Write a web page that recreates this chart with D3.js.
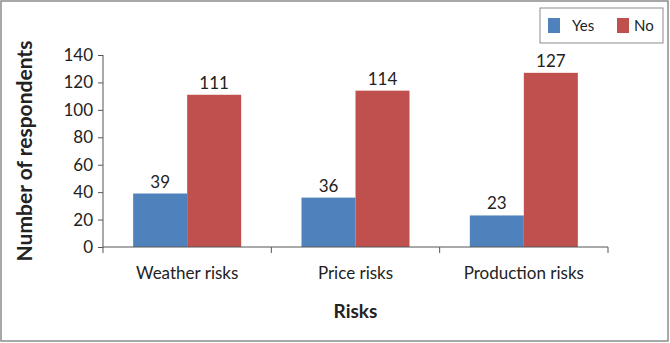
<!DOCTYPE html>
<html>
<head>
<meta charset="utf-8">
<script src="https://cdn.jsdelivr.net/npm/d3@7"></script>
<style>
  body { margin: 0; background: #fff; }
  svg { display: block; font-family: Lato, "Liberation Sans", sans-serif; }
  .axis path, .axis line { stroke: #555; }
</style>
</head>
<body>
<div id="chart"></div>
<script>
var categories = ["Weather risks", "Price risks", "Production risks"];
var seriesNames = ["Yes", "No"];
var yesValues = [39, 36, 23];
var noValues = [111, 114, 127];
var yTicks = [0, 20, 40, 60, 80, 100, 120, 140];
var colors = ["#4f81bd", "#c0504d"];

(function(){
	var width = 670, height = 343;
	var plotLeft = 103, plotRight = 608, plotTop = 55, plotBottom = 247;
	var font = "Lato, 'Liberation Sans', sans-serif";

	var rows = categories.map(function(c, i){
		return { cat: c, values: [yesValues[i], noValues[i]] };
	});

	var svg = d3.select("#chart").append("svg")
		.attr("width", width).attr("height", height);

	// outer frame
	svg.append("rect")
		.attr("x", 1).attr("y", 1)
		.attr("width", width - 3).attr("height", height - 3)
		.attr("fill", "#fff").attr("stroke", "#8c8c8c").attr("stroke-width", 1.5);

	var x = d3.scaleBand().domain(categories).range([plotLeft, plotRight]);
	var xs = d3.scaleBand().domain(seriesNames).range([0, 108]);
	var y = d3.scaleLinear().domain([0, 140]).range([plotBottom, plotTop]);

	// y axis
	var yAxis = svg.append("g")
		.attr("class", "axis")
		.attr("transform", "translate(" + plotLeft + ",0)")
		.call(d3.axisLeft(y).tickValues(yTicks).tickSize(5).tickPadding(5));
	yAxis.attr("font-family", font).attr("font-size", 17);
	yAxis.selectAll("text").attr("fill", "#222");
	yAxis.select(".domain").attr("d", "M0," + plotTop + "V" + plotBottom);

	// bars
	var groups = svg.append("g").selectAll("g.group")
		.data(rows).enter().append("g")
		.attr("class", "group")
		.attr("transform", function(d){ return "translate(" + (x(d.cat) + (x.bandwidth() - 108) / 2) + ",0)"; });

	function pairs(d){
		return d.values.map(function(v, i){ return { key: seriesNames[i], value: v }; });
	}

	groups.selectAll("rect")
		.data(pairs)
		.enter().append("rect")
		.attr("x", function(d){ return xs(d.key); })
		.attr("y", function(d){ return y(d.value); })
		.attr("width", xs.bandwidth())
		.attr("height", function(d){ return plotBottom - y(d.value); })
		.attr("fill", function(d, i){ return colors[i]; });

	groups.selectAll("text")
		.data(pairs)
		.enter().append("text")
		.attr("x", function(d){ return xs(d.key) + xs.bandwidth() / 2; })
		.attr("y", function(d){ return y(d.value) - 6; })
		.attr("text-anchor", "middle")
		.attr("font-size", 17)
		.attr("fill", "#222")
		.text(function(d){ return d.value; });

	// x axis, ticks on band edges
	var xAxisG = svg.append("g").attr("class", "axis");
	xAxisG.append("line")
		.attr("x1", plotLeft).attr("x2", plotRight)
		.attr("y1", plotBottom).attr("y2", plotBottom);
	var edges = categories.map(function(c){ return x(c); }).concat([plotRight]);
	xAxisG.selectAll("line.tick")
		.data(edges).enter().append("line")
		.attr("class", "tick")
		.attr("x1", function(d){ return d; })
		.attr("x2", function(d){ return d; })
		.attr("y1", plotBottom).attr("y2", plotBottom + 6);
	xAxisG.selectAll("text")
		.data(categories).enter().append("text")
		.attr("x", function(d){ return x(d) + x.bandwidth() / 2; })
		.attr("y", 279)
		.attr("text-anchor", "middle")
		.attr("font-size", 17)
		.attr("fill", "#222")
		.text(function(d){ return d; });

	// axis titles
	svg.append("text")
		.attr("x", (plotLeft + plotRight) / 2).attr("y", 318)
		.attr("text-anchor", "middle")
		.attr("font-size", 19).attr("font-weight", "bold").attr("fill", "#222")
		.text("Risks");

	svg.append("text")
		.attr("transform", "translate(32,151) rotate(-90)")
		.attr("text-anchor", "middle")
		.attr("font-size", 21).attr("font-weight", "bold").attr("fill", "#222")
		.text("Number of respondents");

	// legend
	var legend = svg.append("g");
	legend.append("rect")
		.attr("x", 540).attr("y", 8).attr("width", 123).attr("height", 35)
		.attr("fill", "#fff").attr("stroke", "#8c8c8c");
	var swatchX = [548, 617];
	var labelX = [572, 634];
	seriesNames.forEach(function(s, i){
		legend.append("rect")
			.attr("x", swatchX[i]).attr("y", 18).attr("width", 12).attr("height", 15)
			.attr("fill", colors[i]);
		legend.append("text")
			.attr("x", labelX[i]).attr("y", 31)
			.attr("font-size", 15).attr("fill", "#222")
			.text(s);
	});
})();
</script>
</body>
</html>
